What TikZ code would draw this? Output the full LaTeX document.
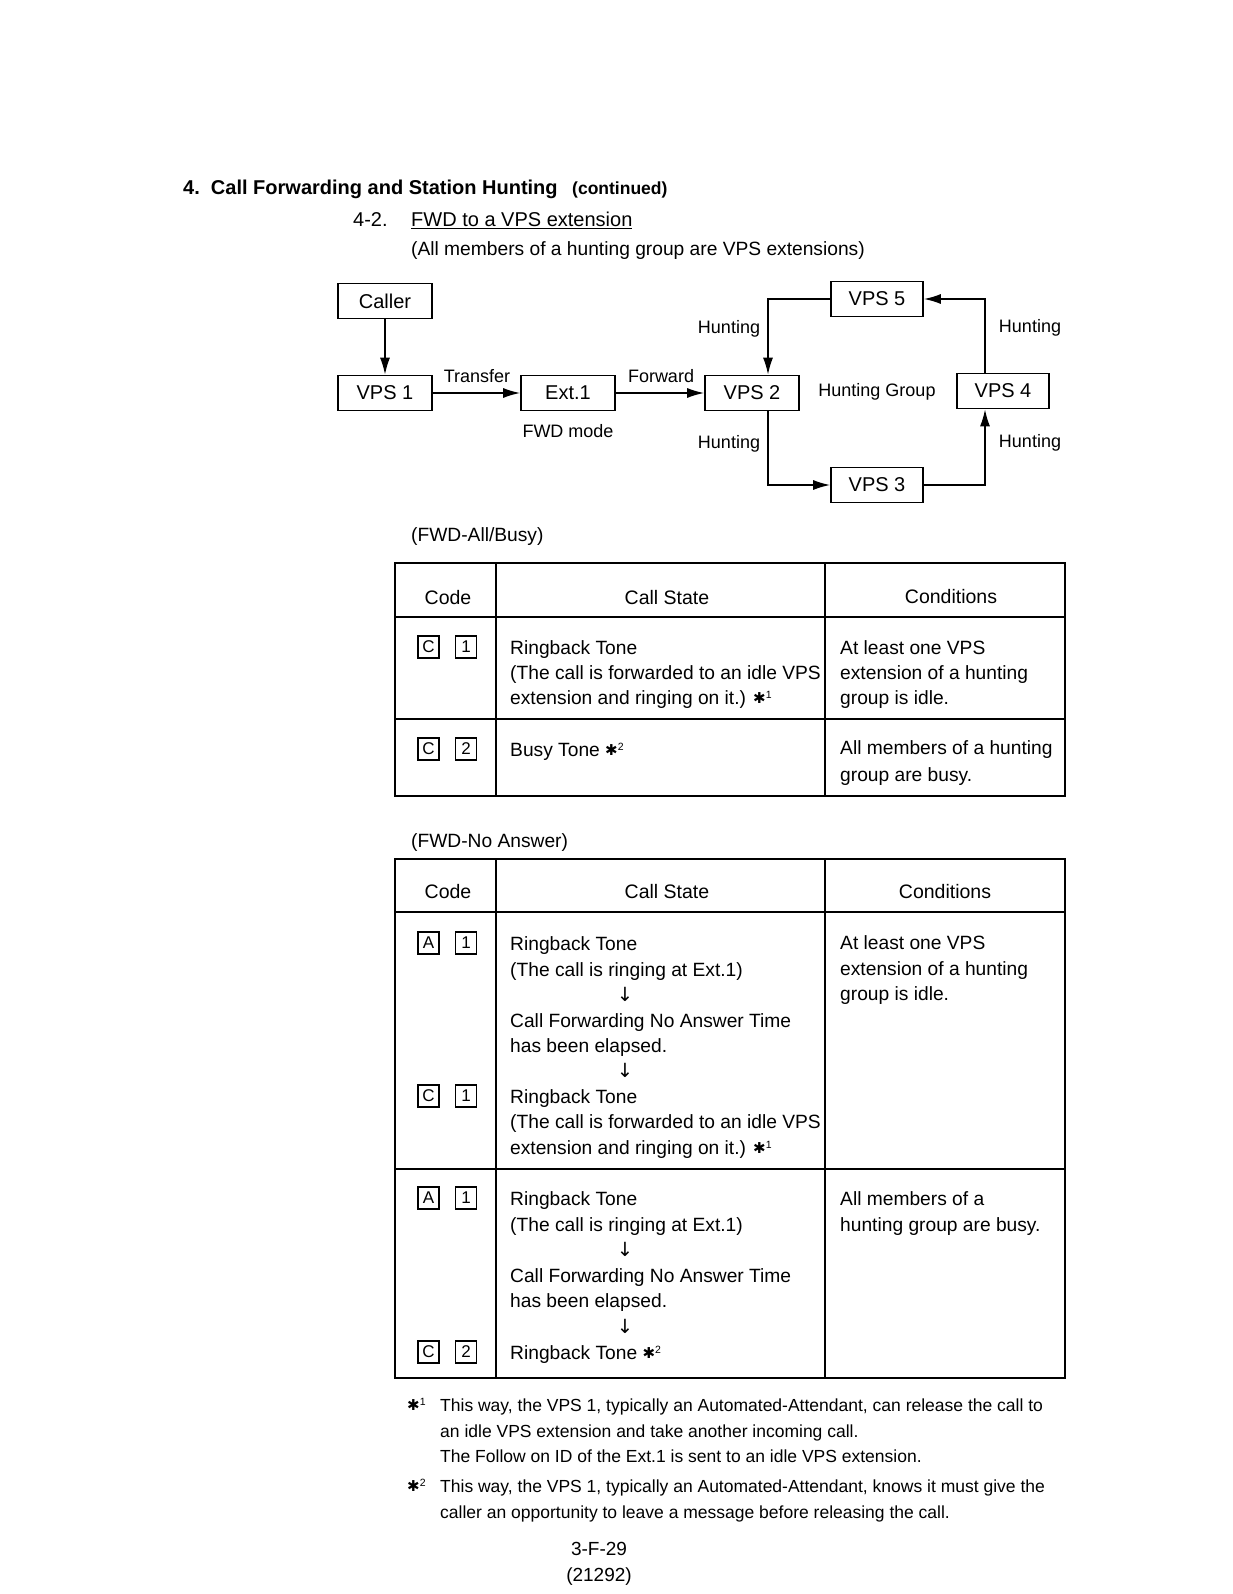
\documentclass[tikz,border=0pt]{standalone}
\usepackage{fontspec}
\setmainfont{Liberation Sans}
\newfontfamily\symf{DejaVu Sans}
\usetikzlibrary{arrows.meta,calc}
\newcommand{\fsz}[1]{\fontsize{#1}{#1}\selectfont}
\newcommand{\astr}[1]{\raisebox{1pt}{\symf\fsz{15}✱}\raisebox{6pt}{\fsz{10.5}#1}}
\newcommand{\dnar}{{\symf ↓}}
\begin{document}
\begin{tikzpicture}[x=1pt,y=-1pt,
  box/.style={draw, line width=1.6pt, minimum width=94pt, minimum height=35pt, inner sep=0pt, font=\fsz{20}},
  lbl/.style={inner sep=0pt, font=\fsz{18}},
  arr/.style={line width=1.6pt, -{Latex[length=17pt,width=10pt]}},
  txt/.style={anchor=base west, inner sep=0pt, font=\fsz{19.2}},
  hdr/.style={anchor=base, inner sep=0pt, font=\fsz{19.5}},
  dn/.style={anchor=base, inner sep=0pt, font=\fsz{19.5}},
  keyb/.style={draw, line width=1.3pt, minimum width=21pt, minimum height=22pt, inner sep=0pt, font=\fsz{17}},
  tline/.style={line width=1.3pt},
  touter/.style={line width=1.8pt},
  fn/.style={anchor=base west, inner sep=0pt, font=\fsz{17.5}}]
\fill[white] (0,0) rectangle (1232,1594);
\useasboundingbox (0,0) rectangle (1232,1594);

% headings
\node[anchor=base west, inner sep=0pt, font=\bfseries\fsz{20}] (title) at (183,195) {4.\ \ Call Forwarding and Station Hunting};
\node[anchor=base west, inner sep=0pt, font=\bfseries\fsz{17.5}] (cont) at (572,195) {(continued)};
\node[txt, font=\fsz{20}] (secn) at (353,227) {4-2.};
\node[txt, font=\fsz{20}] (sect) at (411,227) {\underline{FWD to a VPS extension}};
\node[txt] (allm) at (411,256) {(All members of a hunting group are VPS extensions)};

% diagram
\node[box] (caller) at (385,301) {Caller};
\node[box] (vps1) at (385,393) {VPS 1};
\node[box] (ext1) at (568,393) {Ext.1};
\node[box] (vps2) at (752,393) {VPS 2};
\node[box, minimum width=92pt] (vps4) at (1003,391) {VPS 4};
\node[box, minimum width=92pt] (vps5) at (877,299) {VPS 5};
\node[box, minimum width=92pt] (vps3) at (877,485) {VPS 3};
\coordinate (hl) at (768,0);
\coordinate (hr) at (985,0);
\draw[arr] (caller) -- (vps1);
\draw[arr] (vps1) -- (ext1);
\draw[arr] (ext1) -- (vps2);
\draw[arr] (vps5.west) -| (vps2.north -| hl);
\draw[arr] (vps2.south -| hl) |- (vps3.west);
\draw[arr] (vps3.east) -| (vps4.south -| hr);
\draw[arr] (vps4.north -| hr) |- (vps5.east);
\node[lbl] (ltr) at (477,376) {Transfer};
\node[lbl] (lfw) at (661,376) {Forward};
\node[lbl] (fwdm) at (568,431) {FWD mode};
\node[lbl] (h1) at (729,329) {Hunting};
\node[lbl] (h2) at (729,444) {Hunting};
\node[lbl] (h3) at (1030,328) {Hunting};
\node[lbl] (h4) at (1030,443) {Hunting};
\node[lbl] (hg) at (877,392) {Hunting Group};

% table 1
\node[txt] (fab) at (411,541) {(FWD-All/Busy)};
\draw[touter] (395,563) rectangle (1065,796);
\draw[tline] (496,563) -- (496,796);
\draw[tline] (825,563) -- (825,796);
\draw[tline] (395,617) -- (1065,617);
\draw[tline] (395,719) -- (1065,719);
\node[hdr] (ta1) at (448,604) {Code};
\node[hdr] (ta2) at (667,604) {Call State};
\node[hdr] (ta3) at (951,603) {Conditions};
\node[keyb] (ka1) at (428.5,647) {C};
\node[keyb] (ka2) at (466,647) {1};
\node[txt] (ra1) at (510,654) {Ringback Tone};
\node[txt] (ra2) at (510,679) {(The call is forwarded to an idle VPS};
\node[txt] (ra3) at (510,704) {extension and ringing on it.) \astr{1}};
\node[txt] (ca1) at (840,654) {At least one VPS};
\node[txt] (ca2) at (840,679) {extension of a hunting};
\node[txt] (ca3) at (840,704) {group is idle.};
\node[keyb] (kb1) at (428.5,749) {C};
\node[keyb] (kb2) at (466,749) {2};
\node[txt] (rb1) at (510,756) {Busy Tone \astr{2}};
\node[txt] (cb1) at (840,754) {All members of a hunting};
\node[txt] (cb2) at (840,781) {group are busy.};

% table 2
\node[txt] (fna) at (411,847) {(FWD-No Answer)};
\draw[touter] (395,859) rectangle (1065,1378);
\draw[tline] (496,859) -- (496,1378);
\draw[tline] (825,859) -- (825,1378);
\draw[tline] (395,912) -- (1065,912);
\draw[tline] (395,1169) -- (1065,1169);
\node[hdr] (tb1) at (448,898) {Code};
\node[hdr] (tb2) at (667,898) {Call State};
\node[hdr] (tb3) at (945,898) {Conditions};
\node[keyb] (kc1) at (428.5,943) {A};
\node[keyb] (kc2) at (466,943) {1};
\node[keyb] (kd1) at (428.5,1096) {C};
\node[keyb] (kd2) at (466,1096) {1};
\node[txt] (rc1) at (510,950) {Ringback Tone};
\node[txt] (rc2) at (510,976) {(The call is ringing at Ext.1)};
\node[dn] (rc3) at (625,1001) {\dnar};
\node[txt] (rc4) at (510,1027) {Call Forwarding No Answer Time};
\node[txt] (rc5) at (510,1052) {has been elapsed.};
\node[dn] (rc6) at (625,1077) {\dnar};
\node[txt] (rc7) at (510,1103) {Ringback Tone};
\node[txt] (rc8) at (510,1128) {(The call is forwarded to an idle VPS};
\node[txt] (rc9) at (510,1154) {extension and ringing on it.) \astr{1}};
\node[txt] (cc1) at (840,949) {At least one VPS};
\node[txt] (cc2) at (840,975) {extension of a hunting};
\node[txt] (cc3) at (840,1000) {group is idle.};
\node[keyb] (ke1) at (428.5,1198) {A};
\node[keyb] (ke2) at (466,1198) {1};
\node[keyb] (kf1) at (428.5,1352) {C};
\node[keyb] (kf2) at (466,1352) {2};
\node[txt] (re1) at (510,1205) {Ringback Tone};
\node[txt] (re2) at (510,1231) {(The call is ringing at Ext.1)};
\node[dn] (re3) at (625,1256) {\dnar};
\node[txt] (re4) at (510,1282) {Call Forwarding No Answer Time};
\node[txt] (re5) at (510,1307) {has been elapsed.};
\node[dn] (re6) at (625,1333) {\dnar};
\node[txt] (re7) at (510,1359) {Ringback Tone \astr{2}};
\node[txt] (ce1) at (840,1205) {All members of a};
\node[txt] (ce2) at (840,1231) {hunting group are busy.};

% footnotes
\node[fn] (f1m) at (407,1411) {\astr{1}};
\node[fn] (f1a) at (440,1411) {This way, the VPS 1, typically an Automated-Attendant, can release the call to};
\node[fn] (f1b) at (440,1437) {an idle VPS extension and take another incoming call.};
\node[fn] (f1c) at (440,1462) {The Follow on ID of the Ext.1 is sent to an idle VPS extension.};
\node[fn] (f2m) at (407,1492) {\astr{2}};
\node[fn] (f2a) at (440,1492) {This way, the VPS 1, typically an Automated-Attendant, knows it must give the};
\node[fn] (f2b) at (440,1518) {caller an opportunity to leave a message before releasing the call.};
\node[anchor=base, inner sep=0pt, font=\fsz{19}] (pg1) at (599,1555) {3-F-29};
\node[anchor=base, inner sep=0pt, font=\fsz{19}] (pg2) at (599,1581) {(21292)};
\end{tikzpicture}
\end{document}
